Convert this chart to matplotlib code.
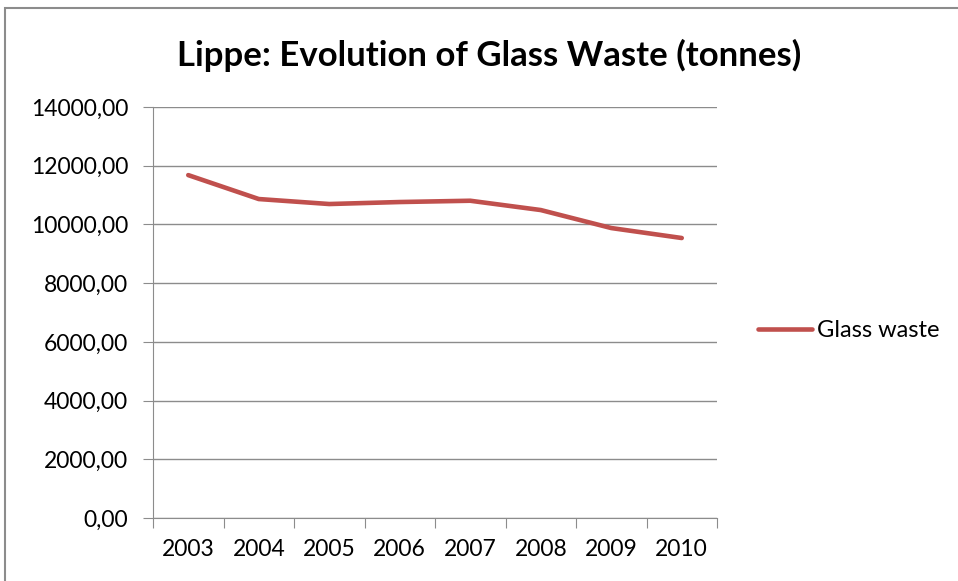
import numpy as np
import matplotlib
matplotlib.use("Agg")
import matplotlib.pyplot as plt
from matplotlib.ticker import FuncFormatter, FixedLocator
from matplotlib.patches import Rectangle

years = ["2003", "2004", "2005", "2006", "2007", "2008", "2009", "2010"]
glass_waste = [11680, 10865, 10695, 10763, 10807, 10490, 9877, 9537]
y_ticks = [0, 2000, 4000, 6000, 8000, 10000, 12000, 14000]

plt.rcParams['font.family'] = ['Lato', 'DejaVu Sans']

fig = plt.figure(figsize=(9.58, 5.81), dpi=100)
# chart border
fig.patches.append(Rectangle((5 / 958, -0.01), 1.0, 1 - 8 / 581 + 0.01,
                             transform=fig.transFigure, fill=False,
                             edgecolor="#8c8c8c", linewidth=1.5))

ax = fig.add_axes([153 / 958, 63 / 581, 564 / 958, 411 / 581])
x = np.arange(len(years))
ax.plot(x, glass_waste, color="#C0504D", linewidth=3.3, solid_capstyle="round",
        label="Glass waste")

ax.set_xlim(-0.5, len(years) - 0.5)
ax.set_ylim(0, 14000)
ax.yaxis.set_major_locator(FixedLocator(y_ticks))
ax.yaxis.set_major_formatter(FuncFormatter(lambda v, p: f"{v:.2f}".replace(".", ",")))
ax.grid(axis="y", color="#8c8c8c", linewidth=1)
ax.set_axisbelow(True)

ax.xaxis.set_major_locator(FixedLocator(np.arange(-0.5, len(years))))
ax.xaxis.set_major_formatter(FuncFormatter(lambda v, p: ""))
ax.xaxis.set_minor_locator(FixedLocator(x))
ax.set_xticklabels(years, minor=True)
ax.tick_params(axis="x", which="major", length=7, color="#8c8c8c", direction="out")
ax.tick_params(axis="x", which="minor", length=0, pad=15, labelsize=16.5)
ax.tick_params(axis="y", length=7, color="#8c8c8c", labelsize=16.5, pad=11)

for s in ["top", "right"]:
    ax.spines[s].set_visible(False)
for s in ["left", "bottom"]:
    ax.spines[s].set_color("#8c8c8c")

fig.text(489 / 958, 1 - 55 / 581, "Lippe: Evolution of Glass Waste (tonnes)",
         ha="center", va="center", fontsize=25, fontweight="bold")

ax.legend(loc="center left", bbox_to_anchor=(1.035, 0.455), frameon=False,
          fontsize=17, handlelength=2.3, handletextpad=0.2)

fig.savefig("out.png", dpi=100)
